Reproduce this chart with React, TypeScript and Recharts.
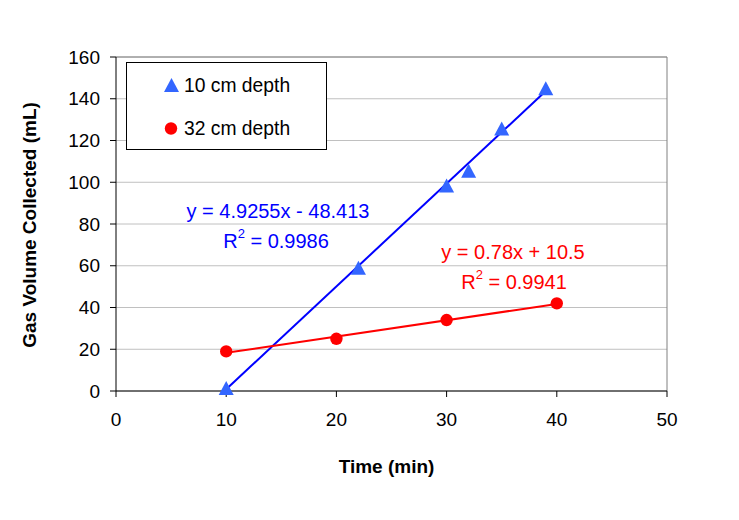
import React from 'react';
import { ComposedChart, Scatter, Line, XAxis, YAxis, CartesianGrid, ReferenceLine } from 'recharts';

const FONT = 'Arial, "Liberation Sans", sans-serif';

const SERIES_NAMES = ['10 cm depth', '32 cm depth'];

// 10 cm depth readings
const shallowTimes = [10, 22, 30, 32, 35, 39];
const shallowVolumes = [1.4, 59, 98.4, 105.5, 125.7, 145];

// 32 cm depth readings
const deepTimes = [10, 20, 30, 40];
const deepVolumes = [19, 25, 34, 42];

// Excel linear trendlines (as printed on the chart)
const shallowFit = { slope: 4.9255, intercept: -48.413, r2: '0.9986', from: 10, to: 39 };
const deepFit = { slope: 0.78, intercept: 10.5, r2: '0.9941', from: 10, to: 40 };

const xTicks = [0, 10, 20, 30, 40, 50];
const yTicks = [0, 20, 40, 60, 80, 100, 120, 140, 160];

const toPoints = (xs: number[], ys: number[]) => xs.map((x, i) => ({ x, y: ys[i] }));
const fitLine = (f: typeof shallowFit) => [
  { x: f.from, y: f.slope * f.from + f.intercept },
  { x: f.to, y: f.slope * f.to + f.intercept },
];

const BLUE_MARK = '#3366FF';
const BLUE_LINE = '#0000FF';
const RED = '#FF0000';

const Triangle = (props: any) => {
  const { cx, cy } = props;
  return <polygon points={`${cx},${cy - 7} ${cx - 7.5},${cy + 7} ${cx + 7.5},${cy + 7}`} fill={BLUE_MARK} />;
};

const Dot = (props: any) => {
  const { cx, cy } = props;
  return <circle cx={cx} cy={cy} r={6.2} fill={RED} />;
};

const XTitle = (props: any) => {
  const { viewBox } = props;
  return (
    <text x={viewBox.x + viewBox.width / 2 - 5} y={viewBox.y + viewBox.height + 52} textAnchor="middle"
      fontFamily={FONT} fontSize={19} fontWeight="bold" fill="#000">
      Time (min)
    </text>
  );
};

const YTitle = (props: any) => {
  const { viewBox } = props;
  const cx = viewBox.x - 20;
  const cy = viewBox.y + viewBox.height / 2 + 1;
  return (
    <text transform={`translate(${cx},${cy}) rotate(-90)`} textAnchor="middle"
      fontFamily={FONT} fontSize={19} fontWeight="bold" fill="#000">
      Gas Volume Collected (mL)
    </text>
  );
};

const Equation = ({ cx1, cx2, y, color, fit }: any) => {
  const sign = fit.intercept < 0 ? '-' : '+';
  return (
    <g fontFamily={FONT} fontSize={20} fill={color}>
      <text x={cx1} y={y} textAnchor="middle">
        {`y = ${fit.slope}x ${sign} ${Math.abs(fit.intercept)}`}
      </text>
      <text x={cx2} y={y + 30} textAnchor="middle">
        <tspan>R</tspan>
        <tspan dy={-10} fontSize={13}>2</tspan>
        <tspan dy={10}>{` = ${fit.r2}`}</tspan>
      </text>
    </g>
  );
};

export default function App() {
  const tickStyle = { fontFamily: FONT, fontSize: 19, fill: '#000' };
  return (
    <div style={{ position: 'absolute', left: 0, top: 0, width: 739, height: 520, background: '#fff' }}>
      <ComposedChart width={739} height={520} margin={{ top: 57, right: 72, bottom: 99, left: 56 }}>
        <CartesianGrid vertical={false} stroke="#C0C0C0" />
        <XAxis type="number" dataKey="x" domain={[0, 50]} ticks={xTicks} interval={0}
          height={30} tickSize={6} tickMargin={16} tick={tickStyle}
          axisLine={{ stroke: '#000' }} tickLine={{ stroke: '#000' }}
          label={{ content: <XTitle /> }} />
        <YAxis type="number" dataKey="y" domain={[0, 160]} ticks={yTicks} interval={0}
          width={60} tickSize={6} tickMargin={10} tick={tickStyle}
          axisLine={{ stroke: '#000' }} tickLine={{ stroke: '#000' }}
          label={{ content: <YTitle /> }} />
        <ReferenceLine y={160} stroke="#808080" />
        <ReferenceLine x={50} stroke="#808080" />
        <Scatter name={SERIES_NAMES[0]} data={toPoints(shallowTimes, shallowVolumes)} shape={<Triangle />} isAnimationActive={false} />
        <Scatter name={SERIES_NAMES[1]} data={toPoints(deepTimes, deepVolumes)} shape={<Dot />} isAnimationActive={false} />
        <Line data={fitLine(shallowFit)} dataKey="y" stroke={BLUE_LINE} strokeWidth={2} dot={false} activeDot={false} legendType="none" isAnimationActive={false} />
        <Line data={fitLine(deepFit)} dataKey="y" stroke={RED} strokeWidth={2} dot={false} activeDot={false} legendType="none" isAnimationActive={false} />
      </ComposedChart>

      {/* legend box and trendline equations sit on top of the plot */}
      <svg width={739} height={520} style={{ position: 'absolute', left: 0, top: 0, pointerEvents: 'none' }}>
        <rect x={126.5} y={62.5} width={200} height={87} fill="#fff" stroke="#000" strokeWidth={1} />
        <polygon points="171.5,78 164,92 179,92" fill={BLUE_MARK} />
        <text x={184} y={92} fontFamily={FONT} fontSize={19.3} fill="#000">{SERIES_NAMES[0]}</text>
        <circle cx={171} cy={128.5} r={6.2} fill={RED} />
        <text x={184} y={134.5} fontFamily={FONT} fontSize={19.3} fill="#000">{SERIES_NAMES[1]}</text>

        <Equation cx1={278} cx2={276} y={218} color={BLUE_LINE} fit={shallowFit} />
        <Equation cx1={513} cx2={514} y={258.5} color={RED} fit={deepFit} />
      </svg>
    </div>
  );
}
